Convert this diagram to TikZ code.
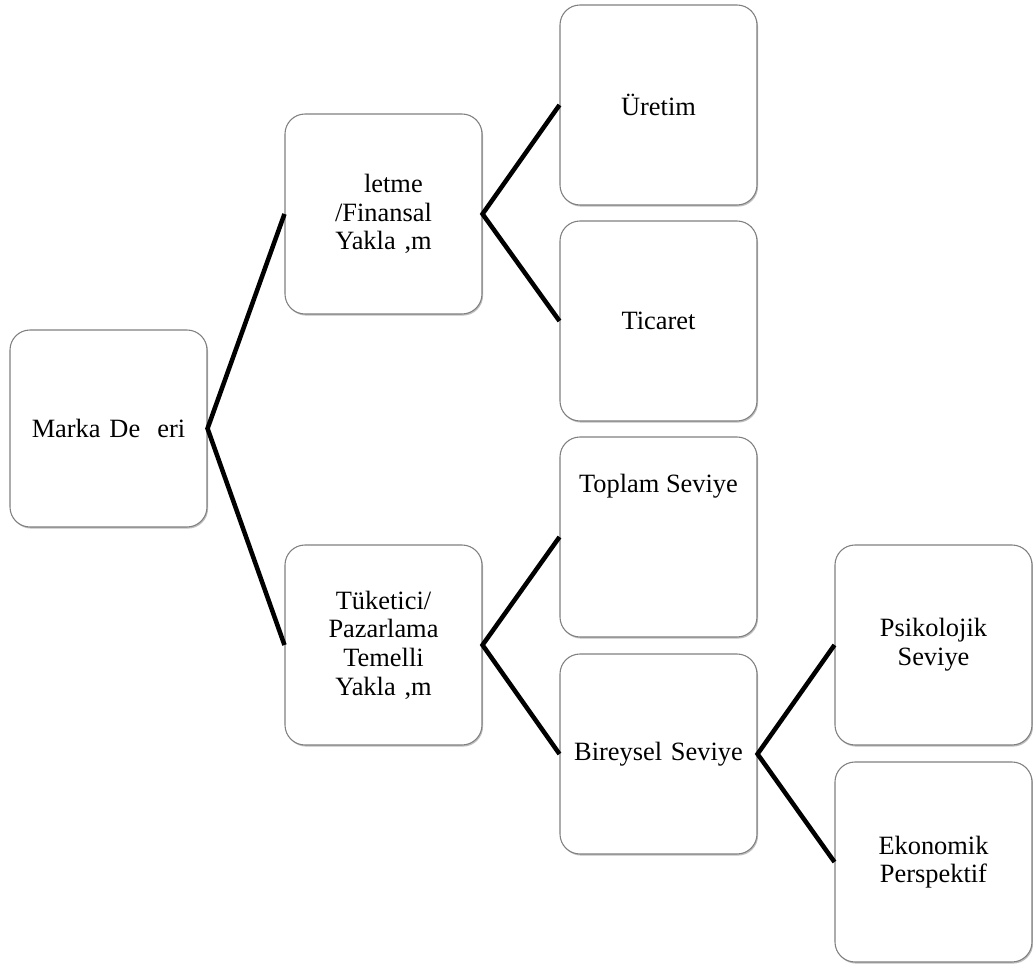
\documentclass[tikz,border=0pt]{standalone}
\usepackage{fontspec}
\setmainfont{Liberation Serif}
\usetikzlibrary{shadows}
\begin{document}
\begin{tikzpicture}[x=0.75pt,y=-0.75pt,
  boxfont/.style={font=\rmfamily\fontsize{19.8pt}{21.5pt}\selectfont},
  card/.style={draw=black!50, line width=0.8pt, fill=white, rounded corners=15pt,
    minimum width=147.75pt, minimum height=150pt, inner sep=4pt,
    align=center, text width=135pt, boxfont,
    drop shadow={shadow xshift=0.8pt, shadow yshift=-1.2pt, opacity=0.25, fill=black}},
  link/.style={line width=3.4pt, line join=miter}]
\useasboundingbox (0,0) rectangle (1033,966);

% level 0
\node[card, minimum height=147.75pt] (marka) at (108.5,428.5) {Marka De\hspace{0.65em}eri};

% level 1
\node[card] (isletme)  at (383.5,214) {\hspace*{0.75em}letme\\/Finansal\\Yakla ,m};
\node[card] (tuketici) at (383.5,645) {Tüketici/\\Pazarlama\\Temelli\\Yakla ,m};

% level 2
\node[card] (uretim)   at (658.5,105) {Üretim};
\node[card] (ticaret)  at (658.5,321) {Ticaret};
\node[card, label={[boxfont, yshift=38pt]center:Toplam Seviye}] (toplam) at (658.5,537) {};
\node[card] (bireysel) at (658.5,754) {Bireysel Seviye};

% level 3
\node[card] (psiko)    at (933.5,645) {Psikolojik\\Seviye};
\node[card] (ekonomik) at (933.5,862) {Ekonomik\\Perspektif};

% connectors
\draw[link] (isletme.west) -- (marka.east) -- (tuketici.west);
\draw[link] (uretim.west) -- (isletme.east) -- (ticaret.west);
\draw[link] (toplam.west) -- (tuketici.east) -- (bireysel.west);
\draw[link] (psiko.west) -- (bireysel.east) -- (ekonomik.west);
\end{tikzpicture}
\end{document}
